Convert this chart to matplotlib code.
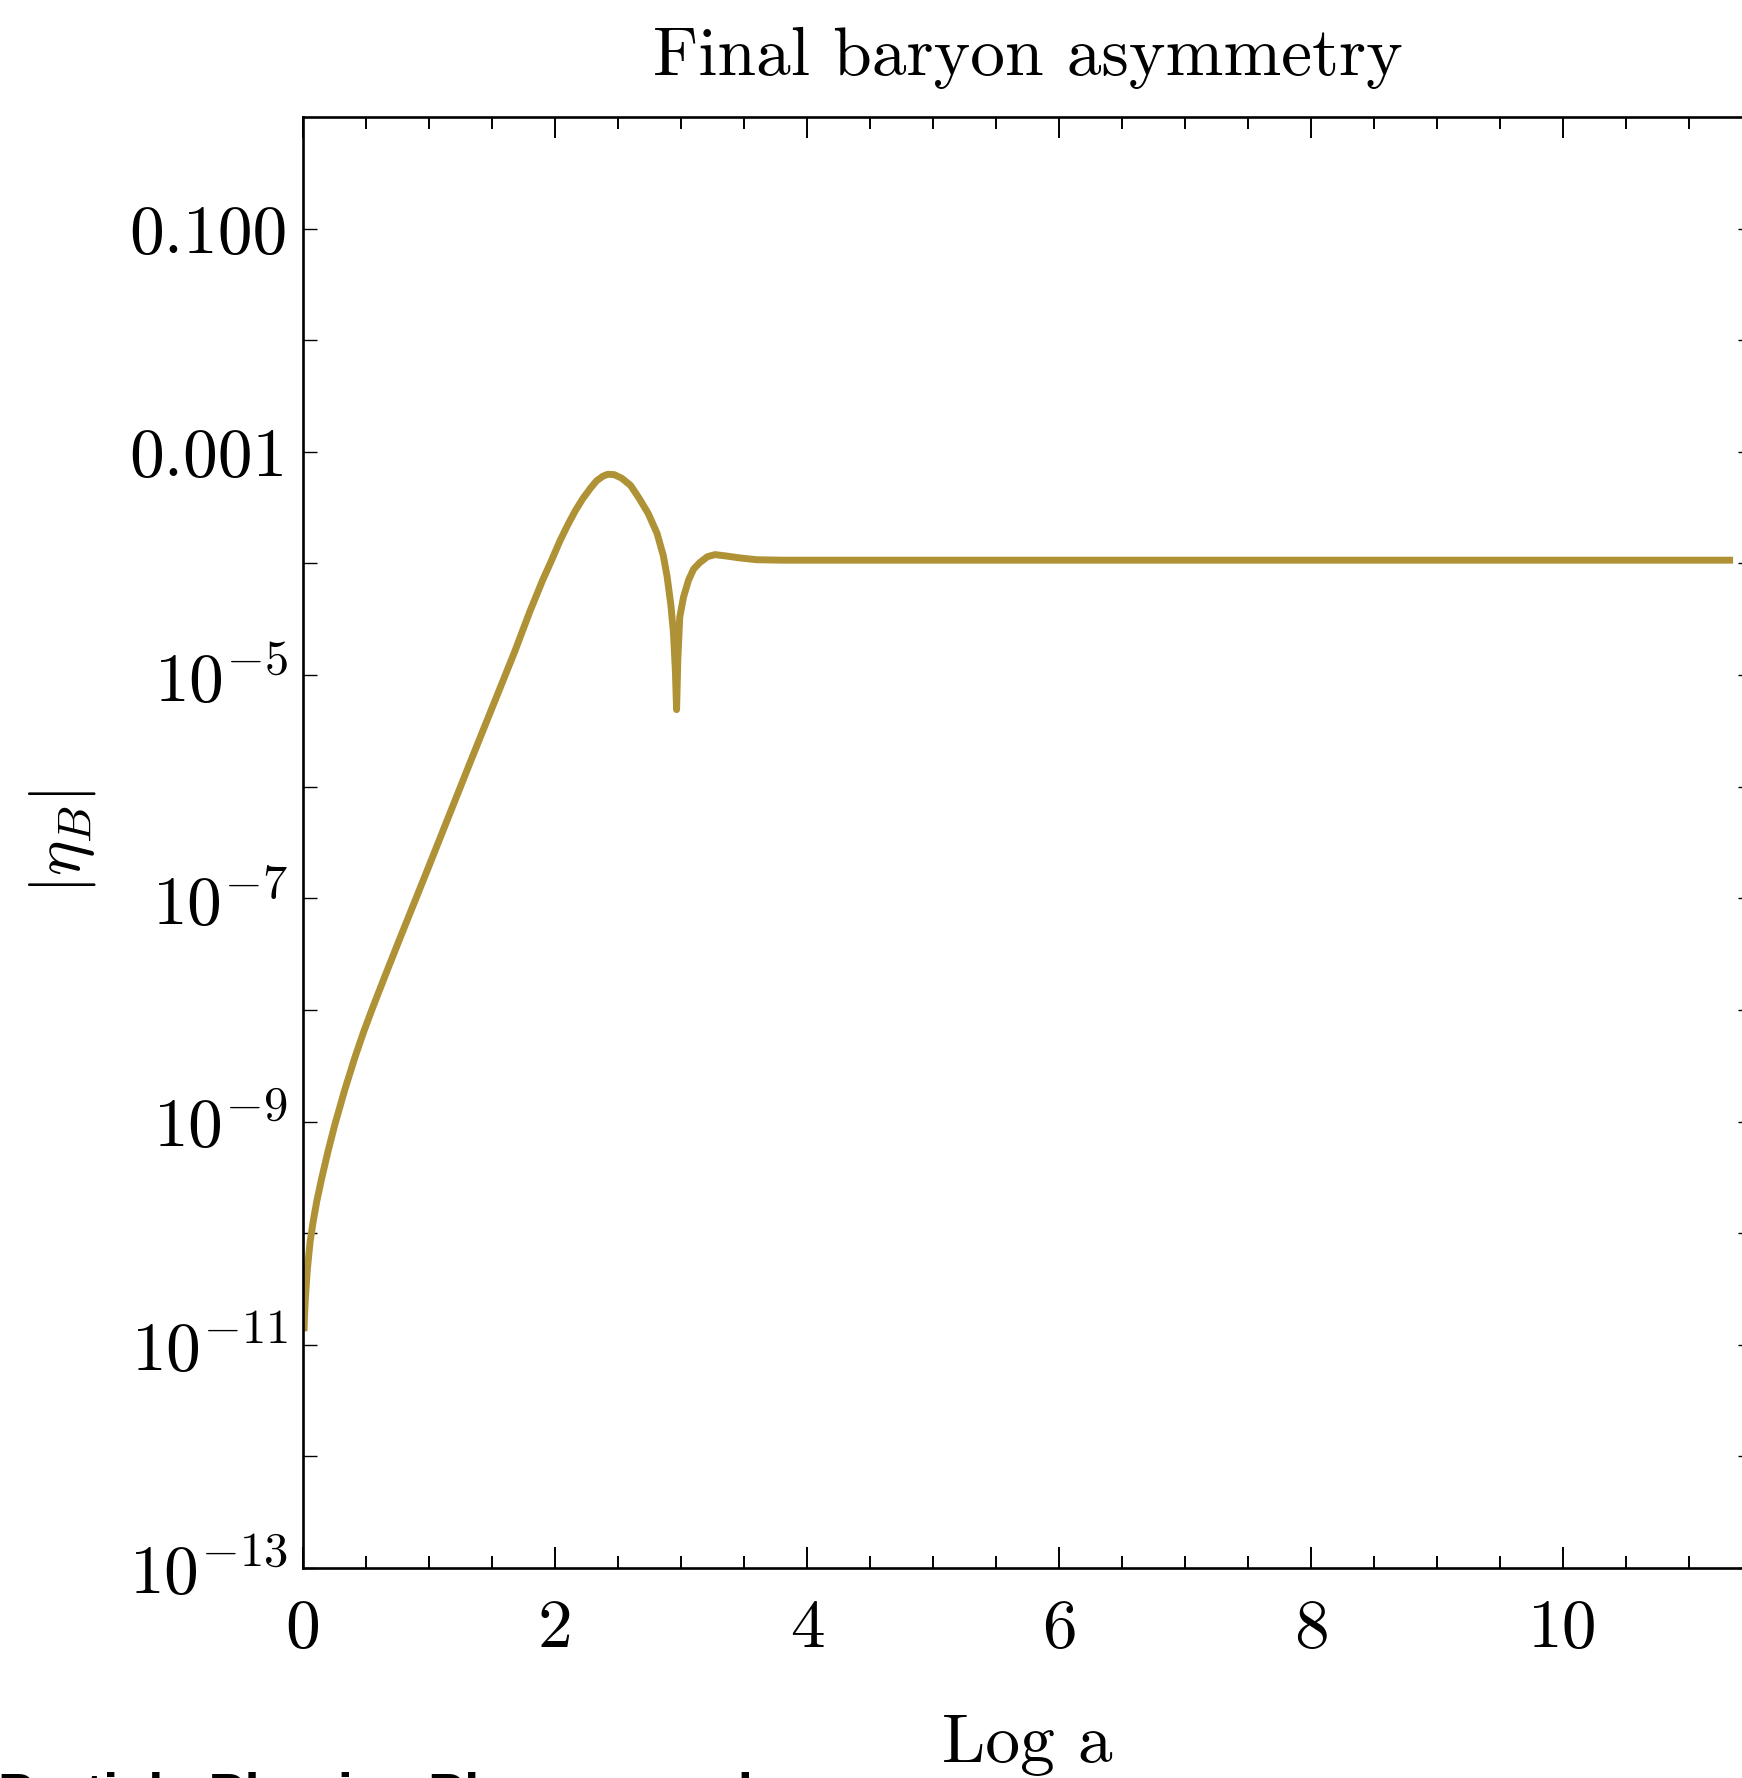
import matplotlib
matplotlib.use("Agg")
import matplotlib.pyplot as plt
from matplotlib.ticker import FixedLocator, FixedFormatter

plt.rcParams["font.family"] = "serif"
plt.rcParams["font.serif"] = ["cmr10"]
plt.rcParams["mathtext.fontset"] = "cm"
plt.rcParams["axes.unicode_minus"] = False
plt.rcParams["axes.formatter.use_mathtext"] = True

# Evolution of |eta_B| against log of the scale factor
log_a = [0.008, 0.012, 0.020, 0.035, 0.056, 0.080, 0.11, 0.15, 0.20, 0.254,
         0.33, 0.41, 0.48, 0.556, 0.66, 0.77, 0.90, 1.00, 1.32, 1.68,
         1.80, 1.90, 1.97, 2.04, 2.10, 2.16, 2.22, 2.28, 2.33, 2.38,
         2.42, 2.47, 2.53, 2.60, 2.67, 2.74, 2.81, 2.86, 2.89, 2.92,
         2.94, 2.955, 2.965, 2.975, 2.99, 3.02, 3.06, 3.10, 3.15, 3.21,
         3.27, 3.35, 3.47, 3.60, 3.80, 5.0, 7.0, 9.0, 11.35]
eta_B = [1.32e-11, 1.82e-11, 2.75e-11, 4.8e-11, 8.3e-11, 1.26e-10, 1.95e-10, 3.16e-10, 5.5e-10, 9.5e-10,
         1.9e-9, 3.7e-9, 6.3e-9, 1.07e-8, 2.14e-8, 4.4e-8, 1.02e-7, 1.95e-7, 1.58e-6, 1.62e-5,
         3.7e-5, 7.0e-5, 1.05e-4, 1.6e-4, 2.2e-4, 2.95e-4, 3.8e-4, 4.7e-4, 5.5e-4, 6.05e-4,
         6.3e-4, 6.25e-4, 5.8e-4, 5.0e-4, 3.8e-4, 2.8e-4, 1.86e-4, 1.17e-4, 7.6e-5, 4.2e-5,
         2.4e-5, 1.12e-5, 4.9e-6, 1.4e-5, 3.3e-5, 5.0e-5, 7.1e-5, 8.9e-5, 1.02e-4, 1.15e-4,
         1.2e-4, 1.17e-4, 1.12e-4, 1.08e-4, 1.07e-4, 1.07e-4, 1.07e-4, 1.07e-4, 1.07e-4]

x_major = [0, 2, 4, 6, 8, 10]
x_major_labels = ["0", "2", "4", "6", "8", "10"]
x_minor = [0.5, 1, 1.5, 2.5, 3, 3.5, 4.5, 5, 5.5, 6.5, 7, 7.5, 8.5, 9, 9.5, 10.5, 11]
y_major = [1e-13, 1e-11, 1e-9, 1e-7, 1e-5, 1e-3, 1e-1]
y_major_labels = [r"$10^{-13}$", r"$10^{-11}$", r"$10^{-9}$", r"$10^{-7}$",
                  r"$10^{-5}$", "0.001", "0.100"]
y_minor = [1e-12, 1e-10, 1e-8, 1e-6, 1e-4, 1e-2]

W, H = 1742, 1778
fig = plt.figure(figsize=(W / 100, H / 100), dpi=100)
left, right, top, bottom = 303, 1752, 117, 1568
ax = fig.add_axes([left / W, 1 - bottom / H, (right - left) / W, (bottom - top) / H])

ax.plot(log_a, eta_B, color="#B09236", lw=5.0, solid_capstyle="butt",
        solid_joinstyle="round")

ax.set_yscale("log")
ax.set_xlim(0, 11.5)
ax.set_ylim(1e-13, 1.0)

ax.xaxis.set_major_locator(FixedLocator(x_major))
ax.xaxis.set_major_formatter(FixedFormatter(x_major_labels))
ax.xaxis.set_minor_locator(FixedLocator(x_minor))
ax.yaxis.set_major_locator(FixedLocator(y_major))
ax.yaxis.set_major_formatter(FixedFormatter(y_major_labels))
ax.yaxis.set_minor_locator(FixedLocator(y_minor))
ax.yaxis.set_minor_formatter(FixedFormatter([""] * len(y_minor)))

ax.tick_params(axis="x", which="both", direction="in", top=True, bottom=True,
               labelsize=50, pad=22, colors="black")
ax.tick_params(axis="x", which="major", length=15, width=1.4)
ax.tick_params(axis="x", which="minor", length=8.6, width=1.4)
ax.tick_params(axis="y", which="both", direction="in", left=True, right=True,
               labelsize=50, pad=11, length=10.2, width=1.0, colors="black")

for s in ax.spines.values():
    s.set_linewidth(1.9)
    s.set_color("black")

ax.set_title("Final baryon asymmetry", fontsize=50, pad=30)
ax.set_xlabel("Log a", fontsize=50)
ax.xaxis.label.set_va("baseline")
ax.xaxis.set_label_coords(0.5, (bottom - 1762) / (bottom - top))
ax.set_ylabel(r"$|\eta_B|$", fontsize=48)
ax.yaxis.label.set_va("center")
ax.yaxis.label.set_ha("center")
ax.yaxis.set_label_coords((62 - left) / (right - left), 0.5)

fig.text(-2 / W, -33 / H, "Particle Physics Phenomenology",
         family="Liberation Sans", weight="bold", fontsize=39,
         color="black", va="baseline", ha="left")

fig.savefig("out.png", dpi=100, facecolor="white")
